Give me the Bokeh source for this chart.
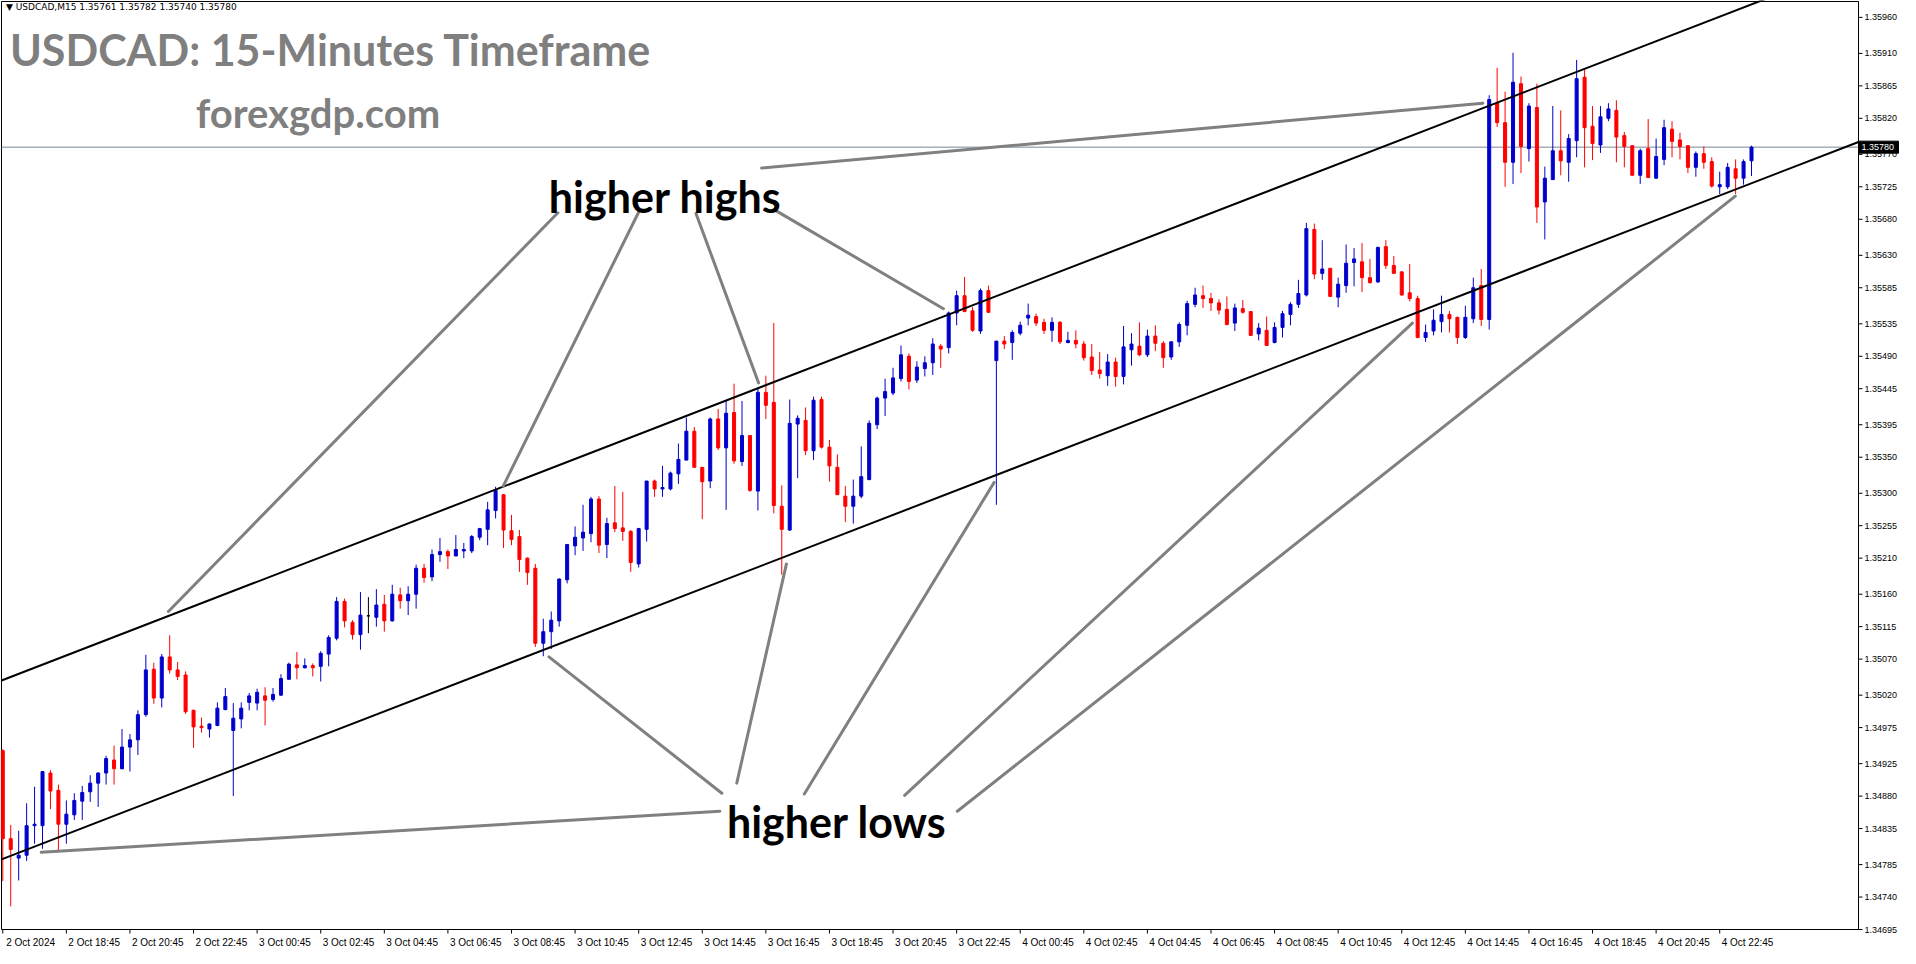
import numpy as np
from bokeh.plotting import figure
from bokeh.models import (Range1d, FixedTicker, LinearAxis, CustomJSTickFormatter, ColumnDataSource)
from bokeh.core.properties import value
from bokeh.embed import file_html
from bokeh.resources import INLINE

SYMBOL = "USDCAD,M15"
TITLE = "USDCAD: 15-Minutes Timeframe"
SUBTITLE = "forexgdp.com"
NOTE_HIGHS = "higher highs"
NOTE_LOWS = "higher lows"

OPEN = [1.34943, 1.34821, 1.34794, 1.34798, 1.34839, 1.34839, 1.34912, 1.34888, 1.34841, 1.34854,
        1.34873, 1.34886, 1.34898, 1.34912, 1.34930, 1.34918, 1.34948, 1.34958, 1.34993, 1.35056,
        1.35016, 1.35073, 1.35055, 1.35048, 1.34999, 1.34977, 1.34973, 1.34978, 1.35000, 1.34971,
        1.34987, 1.35010, 1.35009, 1.35019, 1.35014, 1.35020, 1.35042, 1.35062, 1.35058, 1.35061,
        1.35060, 1.35077, 1.35099, 1.35150, 1.35121, 1.35104, 1.35130, 1.35128, 1.35146, 1.35123,
        1.35159, 1.35151, 1.35160, 1.35196, 1.35184, 1.35215, 1.35219, 1.35213, 1.35220, 1.35220,
        1.35239, 1.35250, 1.35276, 1.35298, 1.35248, 1.35240, 1.35210, 1.35196, 1.35092, 1.35108,
        1.35123, 1.35180, 1.35227, 1.35238, 1.35244, 1.35292, 1.35229, 1.35259, 1.35252, 1.35247,
        1.35202, 1.35250, 1.35317, 1.35306, 1.35306, 1.35327, 1.35346, 1.35386, 1.35336, 1.35317,
        1.35403, 1.35363, 1.35412, 1.35344, 1.35380, 1.35303, 1.35440, 1.35426, 1.35282, 1.35249,
        1.35396, 1.35401, 1.35359, 1.35430, 1.35364, 1.35336, 1.35296, 1.35282, 1.35296, 1.35319,
        1.35395, 1.35432, 1.35439, 1.35459, 1.35490, 1.35457, 1.35473, 1.35481, 1.35504, 1.35502,
        1.35550, 1.35574, 1.35553, 1.35525, 1.35581, 1.35484, 1.35511, 1.35509, 1.35522, 1.35543,
        1.35545, 1.35537, 1.35526, 1.35537, 1.35509, 1.35512, 1.35507, 1.35489, 1.35471, 1.35463,
        1.35482, 1.35462, 1.35499, 1.35504, 1.35492, 1.35518, 1.35508, 1.35489, 1.35510, 1.35533,
        1.35562, 1.35574, 1.35570, 1.35564, 1.35555, 1.35536, 1.35556, 1.35552, 1.35521, 1.35526,
        1.35509, 1.35530, 1.35548, 1.35562, 1.35575, 1.35666, 1.35605, 1.35612, 1.35572, 1.35588,
        1.35620, 1.35621, 1.35599, 1.35593, 1.35642, 1.35616, 1.35607, 1.35578, 1.35570, 1.35516,
        1.35525, 1.35538, 1.35548, 1.35544, 1.35516, 1.35542, 1.35588, 1.35541, 1.35841, 1.35814,
        1.35759, 1.35868, 1.35778, 1.35835, 1.35704, 1.35735, 1.35775, 1.35759, 1.35789, 1.35877,
        1.35809, 1.35783, 1.35820, 1.35831, 1.35796, 1.35782, 1.35741, 1.35778, 1.35737, 1.35763,
        1.35805, 1.35790, 1.35782, 1.35752, 1.35771, 1.35760, 1.35725, 1.35725, 1.35750, 1.35737,
        1.35761]
HIGH = [1.34945, 1.34840, 1.34832, 1.34870, 1.34893, 1.34914, 1.34916, 1.34896, 1.34874, 1.34884,
        1.34894, 1.34909, 1.34913, 1.34936, 1.34950, 1.34973, 1.34966, 1.34999, 1.35076, 1.35065,
        1.35077, 1.35103, 1.35066, 1.35053, 1.35000, 1.34989, 1.34981, 1.35010, 1.35030, 1.35009,
        1.35010, 1.35023, 1.35029, 1.35031, 1.35030, 1.35049, 1.35065, 1.35080, 1.35071, 1.35064,
        1.35081, 1.35103, 1.35156, 1.35154, 1.35124, 1.35163, 1.35156, 1.35167, 1.35159, 1.35173,
        1.35169, 1.35171, 1.35201, 1.35202, 1.35222, 1.35238, 1.35222, 1.35242, 1.35231, 1.35242,
        1.35252, 1.35288, 1.35309, 1.35299, 1.35270, 1.35249, 1.35211, 1.35202, 1.35126, 1.35136,
        1.35182, 1.35229, 1.35254, 1.35284, 1.35295, 1.35296, 1.35266, 1.35310, 1.35302, 1.35249,
        1.35252, 1.35317, 1.35319, 1.35338, 1.35330, 1.35369, 1.35405, 1.35392, 1.35336, 1.35405,
        1.35417, 1.35428, 1.35452, 1.35428, 1.35380, 1.35445, 1.35463, 1.35536, 1.35311, 1.35430,
        1.35408, 1.35419, 1.35434, 1.35434, 1.35374, 1.35354, 1.35310, 1.35319, 1.35365, 1.35401,
        1.35434, 1.35459, 1.35474, 1.35505, 1.35494, 1.35483, 1.35490, 1.35515, 1.35507, 1.35552,
        1.35581, 1.35600, 1.35558, 1.35584, 1.35588, 1.35511, 1.35518, 1.35526, 1.35538, 1.35563,
        1.35549, 1.35542, 1.35544, 1.35539, 1.35524, 1.35526, 1.35511, 1.35507, 1.35496, 1.35493,
        1.35488, 1.35532, 1.35522, 1.35537, 1.35527, 1.35533, 1.35511, 1.35511, 1.35537, 1.35567,
        1.35585, 1.35588, 1.35578, 1.35569, 1.35573, 1.35563, 1.35568, 1.35552, 1.35536, 1.35545,
        1.35537, 1.35553, 1.35565, 1.35596, 1.35675, 1.35674, 1.35651, 1.35612, 1.35599, 1.35645,
        1.35640, 1.35647, 1.35625, 1.35642, 1.35651, 1.35629, 1.35608, 1.35618, 1.35574, 1.35534,
        1.35555, 1.35574, 1.35553, 1.35545, 1.35560, 1.35599, 1.35611, 1.35852, 1.35890, 1.35857,
        1.35911, 1.35878, 1.35841, 1.35868, 1.35753, 1.35837, 1.35831, 1.35798, 1.35901, 1.35887,
        1.35837, 1.35837, 1.35841, 1.35845, 1.35801, 1.35783, 1.35778, 1.35819, 1.35792, 1.35818,
        1.35816, 1.35800, 1.35783, 1.35774, 1.35781, 1.35766, 1.35746, 1.35758, 1.35763, 1.35763,
        1.35782]
LOW = [1.34762, 1.34727, 1.34763, 1.34790, 1.34814, 1.34807, 1.34862, 1.34805, 1.34814, 1.34847,
       1.34847, 1.34872, 1.34865, 1.34896, 1.34896, 1.34917, 1.34914, 1.34937, 1.34990, 1.35008,
       1.35003, 1.35050, 1.35041, 1.34994, 1.34947, 1.34968, 1.34961, 1.34977, 1.34999, 1.34880,
       1.34974, 1.34999, 1.34999, 1.34978, 1.35011, 1.35019, 1.35042, 1.35042, 1.35057, 1.35046,
       1.35039, 1.35060, 1.35096, 1.35114, 1.35097, 1.35083, 1.35106, 1.35115, 1.35108, 1.35122,
       1.35140, 1.35131, 1.35140, 1.35176, 1.35178, 1.35205, 1.35195, 1.35213, 1.35210, 1.35217,
       1.35235, 1.35228, 1.35265, 1.35224, 1.35228, 1.35191, 1.35173, 1.35087, 1.35074, 1.35084,
       1.35115, 1.35175, 1.35214, 1.35220, 1.35232, 1.35217, 1.35210, 1.35246, 1.35234, 1.35191,
       1.35197, 1.35233, 1.35295, 1.35295, 1.35304, 1.35313, 1.35346, 1.35336, 1.35264, 1.35307,
       1.35360, 1.35277, 1.35341, 1.35338, 1.35302, 1.35276, 1.35403, 1.35272, 1.35187, 1.35248,
       1.35321, 1.35353, 1.35346, 1.35362, 1.35316, 1.35298, 1.35260, 1.35258, 1.35293, 1.35318,
       1.35389, 1.35407, 1.35436, 1.35455, 1.35444, 1.35453, 1.35462, 1.35464, 1.35474, 1.35494,
       1.35533, 1.35551, 1.35524, 1.35521, 1.35550, 1.35284, 1.35500, 1.35485, 1.35519, 1.35533,
       1.35532, 1.35521, 1.35510, 1.35507, 1.35508, 1.35501, 1.35484, 1.35464, 1.35459, 1.35449,
       1.35448, 1.35451, 1.35477, 1.35490, 1.35489, 1.35497, 1.35474, 1.35485, 1.35503, 1.35519,
       1.35558, 1.35557, 1.35553, 1.35548, 1.35533, 1.35525, 1.35549, 1.35518, 1.35512, 1.35505,
       1.35508, 1.35516, 1.35533, 1.35557, 1.35573, 1.35597, 1.35596, 1.35573, 1.35558, 1.35578,
       1.35587, 1.35579, 1.35591, 1.35592, 1.35611, 1.35604, 1.35574, 1.35566, 1.35515, 1.35510,
       1.35519, 1.35523, 1.35523, 1.35507, 1.35514, 1.35536, 1.35532, 1.35527, 1.35808, 1.35725,
       1.35729, 1.35744, 1.35760, 1.35675, 1.35652, 1.35735, 1.35741, 1.35732, 1.35766, 1.35752,
       1.35762, 1.35772, 1.35816, 1.35759, 1.35752, 1.35741, 1.35729, 1.35737, 1.35736, 1.35755,
       1.35766, 1.35763, 1.35744, 1.35739, 1.35750, 1.35724, 1.35715, 1.35722, 1.35715, 1.35728,
       1.35740]
CLOSE = [1.34821, 1.34806, 1.34798, 1.34839, 1.34841, 1.34914, 1.34887, 1.34841, 1.34855, 1.34874,
         1.34885, 1.34898, 1.34912, 1.34932, 1.34918, 1.34948, 1.34958, 1.34993, 1.35055, 1.35016,
         1.35073, 1.35055, 1.35046, 1.34997, 1.34976, 1.34975, 1.34980, 1.35002, 1.35018, 1.34988,
         1.35002, 1.35019, 1.35024, 1.35013, 1.35021, 1.35043, 1.35063, 1.35058, 1.35061, 1.35058,
         1.35078, 1.35100, 1.35150, 1.35123, 1.35104, 1.35131, 1.35130, 1.35145, 1.35123, 1.35160,
         1.35151, 1.35160, 1.35196, 1.35183, 1.35215, 1.35219, 1.35213, 1.35222, 1.35222, 1.35240,
         1.35251, 1.35277, 1.35304, 1.35249, 1.35236, 1.35208, 1.35190, 1.35092, 1.35108, 1.35124,
         1.35181, 1.35229, 1.35239, 1.35246, 1.35292, 1.35228, 1.35258, 1.35251, 1.35247, 1.35204,
         1.35251, 1.35317, 1.35306, 1.35308, 1.35328, 1.35347, 1.35386, 1.35336, 1.35316, 1.35403,
         1.35363, 1.35411, 1.35345, 1.35380, 1.35304, 1.35440, 1.35422, 1.35283, 1.35250, 1.35397,
         1.35404, 1.35359, 1.35429, 1.35364, 1.35338, 1.35298, 1.35282, 1.35296, 1.35323, 1.35397,
         1.35432, 1.35441, 1.35460, 1.35492, 1.35455, 1.35475, 1.35481, 1.35507, 1.35500, 1.35550,
         1.35574, 1.35552, 1.35526, 1.35581, 1.35551, 1.35511, 1.35507, 1.35523, 1.35533, 1.35547,
         1.35536, 1.35526, 1.35537, 1.35510, 1.35512, 1.35507, 1.35488, 1.35470, 1.35466, 1.35482,
         1.35462, 1.35503, 1.35507, 1.35492, 1.35518, 1.35508, 1.35488, 1.35510, 1.35534, 1.35563,
         1.35575, 1.35570, 1.35564, 1.35554, 1.35534, 1.35557, 1.35551, 1.35519, 1.35529, 1.35505,
         1.35530, 1.35549, 1.35562, 1.35577, 1.35667, 1.35604, 1.35611, 1.35573, 1.35590, 1.35619,
         1.35625, 1.35599, 1.35592, 1.35641, 1.35616, 1.35605, 1.35575, 1.35570, 1.35516, 1.35523,
         1.35540, 1.35548, 1.35542, 1.35516, 1.35544, 1.35585, 1.35541, 1.35846, 1.35814, 1.35759,
         1.35870, 1.35781, 1.35837, 1.35697, 1.35737, 1.35775, 1.35761, 1.35792, 1.35875, 1.35807,
         1.35785, 1.35822, 1.35833, 1.35794, 1.35781, 1.35741, 1.35775, 1.35738, 1.35767, 1.35807,
         1.35788, 1.35781, 1.35752, 1.35771, 1.35759, 1.35726, 1.35728, 1.35752, 1.35737, 1.35760,
         1.35780]

X_TICK_BARS = [0, 8, 16, 24, 32, 40, 48, 56, 64, 72, 80, 88, 96, 104, 112, 120, 128,
               136, 144, 152, 160, 168, 176, 184, 192, 200, 208, 216]
X_TICK_LABELS = ["2 Oct 2024", "2 Oct 18:45", "2 Oct 20:45", "2 Oct 22:45",
                 "3 Oct 00:45", "3 Oct 02:45", "3 Oct 04:45", "3 Oct 06:45",
                 "3 Oct 08:45", "3 Oct 10:45", "3 Oct 12:45", "3 Oct 14:45",
                 "3 Oct 16:45", "3 Oct 18:45", "3 Oct 20:45", "3 Oct 22:45",
                 "4 Oct 00:45", "4 Oct 02:45", "4 Oct 04:45", "4 Oct 06:45",
                 "4 Oct 08:45", "4 Oct 10:45", "4 Oct 12:45", "4 Oct 14:45",
                 "4 Oct 16:45", "4 Oct 18:45", "4 Oct 20:45", "4 Oct 22:45"]
Y_TICKS = [1.35960, 1.35910, 1.35865, 1.35820, 1.35770, 1.35725, 1.35680, 1.35630,
           1.35585, 1.35535, 1.35490, 1.35445, 1.35395, 1.35350, 1.35300, 1.35255,
           1.35210, 1.35160, 1.35115, 1.35070, 1.35020, 1.34975, 1.34925, 1.34880,
           1.34835, 1.34785, 1.34740, 1.34695]
BID = 1.35780

# channel trend lines: two anchor points each (bar index, price)
UPPER_CHANNEL = [(0, 1.35041), (220, 1.35978)]
LOWER_CHANNEL = [(0, 1.34793), (232, 1.35781)]

# annotation pointer lines (bar index, price) -> (bar index, price)
HIGH_POINTERS = [((95.46, 1.35751), (186.2, 1.35841)),
                 ((69.84, 1.35689), (20.84, 1.35136)),
                 ((79.96, 1.35689), (62.96, 1.35310)),
                 ((87.21, 1.35688), (95.09, 1.35453)),
                 ((97.09, 1.35693), (118.34, 1.35556))]
LOW_POINTERS = [((90.21, 1.34859), (4.84, 1.34802)),
                ((90.46, 1.34884), (68.71, 1.35073)),
                ((92.34, 1.34898), (98.59, 1.35202)),
                ((100.84, 1.34883), (124.71, 1.35315)),
                ((113.46, 1.34881), (177.34, 1.35536)),
                ((120.09, 1.34859), (217.96, 1.35712))]

# ---------------- layout (pixels) ----------------
FRAME_W, FRAME_H = 1900, 934
LEFT_BAR, AXIS_BAR = -0.16, 233.46          # chart border / price-axis position (bars)
P_TOP, P_BOT = 1.35982, 1.34695              # chart top / bottom border (price)
PPB = (FRAME_W - 43) / (AXIS_BAR - LEFT_BAR)  # pixels per bar
PPP = (P_TOP - P_BOT) / (FRAME_H - 6)         # price per pixel
X_START = LEFT_BAR - 1 / PPB
X_END = AXIS_BAR + 42 / PPB
Y_START = P_BOT - 5 * PPP
Y_END = P_TOP + 1 * PPP

BLUE, RED = "#0000CC", "#FF0000"
GRAY = "#808080"

p = figure(frame_width=FRAME_W, frame_height=FRAME_H,
           x_range=Range1d(X_START, X_END), y_range=Range1d(Y_START, Y_END),
           output_backend="svg", toolbar_location=None,
           y_axis_location=None, x_axis_location=None,
           min_border_left=0, min_border_top=0, min_border_right=0, min_border_bottom=0,
           background_fill_color="white", border_fill_color="white")
p.grid.visible = False
p.outline_line_color = None

# time axis labels (real axis, labels start at each bar tick as in MT4)
LABEL_SHIFT = 3.5
label_axis = LinearAxis(ticker=FixedTicker(ticks=[t + LABEL_SHIFT for t in X_TICK_BARS]),
                        formatter=CustomJSTickFormatter(
                            args=dict(labels=X_TICK_LABELS, shift=LABEL_SHIFT),
                            code="const k = Math.round((tick - shift) / 8); return labels[k] || '';"),
                        axis_line_color=None, major_tick_line_color=None,
                        minor_tick_line_color=None, major_tick_out=0, major_tick_in=0,
                        major_label_standoff=2,
                        major_label_text_font="Liberation Sans",
                        major_label_text_font_size="10px",
                        major_label_text_color="black")
p.add_layout(label_axis, "below")

# chart border and price axis line
p.line([LEFT_BAR, LEFT_BAR, AXIS_BAR, AXIS_BAR, LEFT_BAR],
       [P_BOT, P_TOP, P_TOP, P_BOT, P_BOT], line_color="black", line_width=1)
# time tick marks
p.segment(x0=X_TICK_BARS, y0=[P_BOT] * len(X_TICK_BARS),
          x1=X_TICK_BARS, y1=[P_BOT - 4 * PPP] * len(X_TICK_BARS),
          line_color="black", line_width=1)
# price tick marks and labels
p.segment(x0=[AXIS_BAR] * len(Y_TICKS), y0=Y_TICKS,
          x1=[AXIS_BAR + 4 / PPB] * len(Y_TICKS), y1=Y_TICKS,
          line_color="black", line_width=1)
p.text(x=[AXIS_BAR + 6 / PPB] * len(Y_TICKS), y=Y_TICKS, text=[f"{t:.5f}" for t in Y_TICKS],
       text_font=value("Liberation Sans"), text_font_size=value("9px"),
       text_color="black", text_baseline="middle", text_align="left")

# bid line
p.line([LEFT_BAR, AXIS_BAR], [BID, BID], line_color="#778899", line_width=1)

# candles
o = np.array(OPEN); h = np.array(HIGH); l = np.array(LOW); c = np.array(CLOSE)
idx = np.arange(len(o))
colors = np.where(c > o, BLUE, np.where(c < o, RED, "black"))
src = ColumnDataSource(dict(x=idx, high=h, low=l,
                            top=np.maximum(o, c), bottom=np.minimum(o, c), color=colors))
p.segment(x0="x", y0="low", x1="x", y1="high", line_color="color", line_width=1, source=src)
p.vbar(x="x", width=0.38, top="top", bottom="bottom", fill_color="color",
       line_color="color", line_width=1, source=src)

# channel lines extended to the borders
def extend(anchors, x_from, x_to):
    (xa, ya), (xb, yb) = anchors
    s = (yb - ya) / (xb - xa)
    return [x_from, x_to], [ya + s * (x_from - xa), ya + s * (x_to - xa)]

for ch in (UPPER_CHANNEL, LOWER_CHANNEL):
    xs, ys = extend(ch, LEFT_BAR, AXIS_BAR)
    p.line(xs, ys, line_color="black", line_width=2)

# pointer lines
ptr = HIGH_POINTERS + LOW_POINTERS
p.segment(x0=[a[0][0] for a in ptr], y0=[a[0][1] for a in ptr],
          x1=[a[1][0] for a in ptr], y1=[a[1][1] for a in ptr],
          line_color=GRAY, line_width=3, line_cap="round")

# texts
p.text(x=[0.9], y=[1.35915], text=[TITLE], text_font=value("Lato"), text_font_style="bold",
       text_font_size=value("43px"), text_color="#7F7F7F", text_baseline="alphabetic")
p.text(x=[24.3], y=[1.35827], text=[SUBTITLE], text_font=value("Lato"), text_font_style="bold",
       text_font_size=value("40px"), text_color="#7F7F7F", text_baseline="alphabetic")
p.text(x=[68.7], y=[1.35712], text=[NOTE_HIGHS], text_font=value("Lato"), text_font_style="bold",
       text_font_size=value("43px"), text_color="black", text_baseline="alphabetic")
p.text(x=[91.1], y=[1.34845], text=[NOTE_LOWS], text_font=value("Lato"), text_font_style="bold",
       text_font_size=value("43px"), text_color="black", text_baseline="alphabetic")

header = "\u25bc " + SYMBOL + "  " + " ".join(f"{v:.5f}" for v in (OPEN[-1], HIGH[-1], LOW[-1], CLOSE[-1]))
p.text(x=[0.4], y=[1.35974], text=[header], text_font=value("DejaVu Sans"),
       text_font_size=value("9px"), text_color="black", text_baseline="middle")

# current price box on the axis
p.quad(left=[AXIS_BAR], right=[AXIS_BAR + 40 / PPB],
       bottom=[BID - 6 * PPP], top=[BID + 6 * PPP], fill_color="black", line_color="black")
p.text(x=[AXIS_BAR + 3 / PPB], y=[BID], text=[f"{BID:.5f}"],
       text_font=value("Liberation Sans"), text_font_size=value("9px"),
       text_color="white", text_baseline="middle", text_align="left")

open("out.html", "w").write(file_html(p, INLINE))
